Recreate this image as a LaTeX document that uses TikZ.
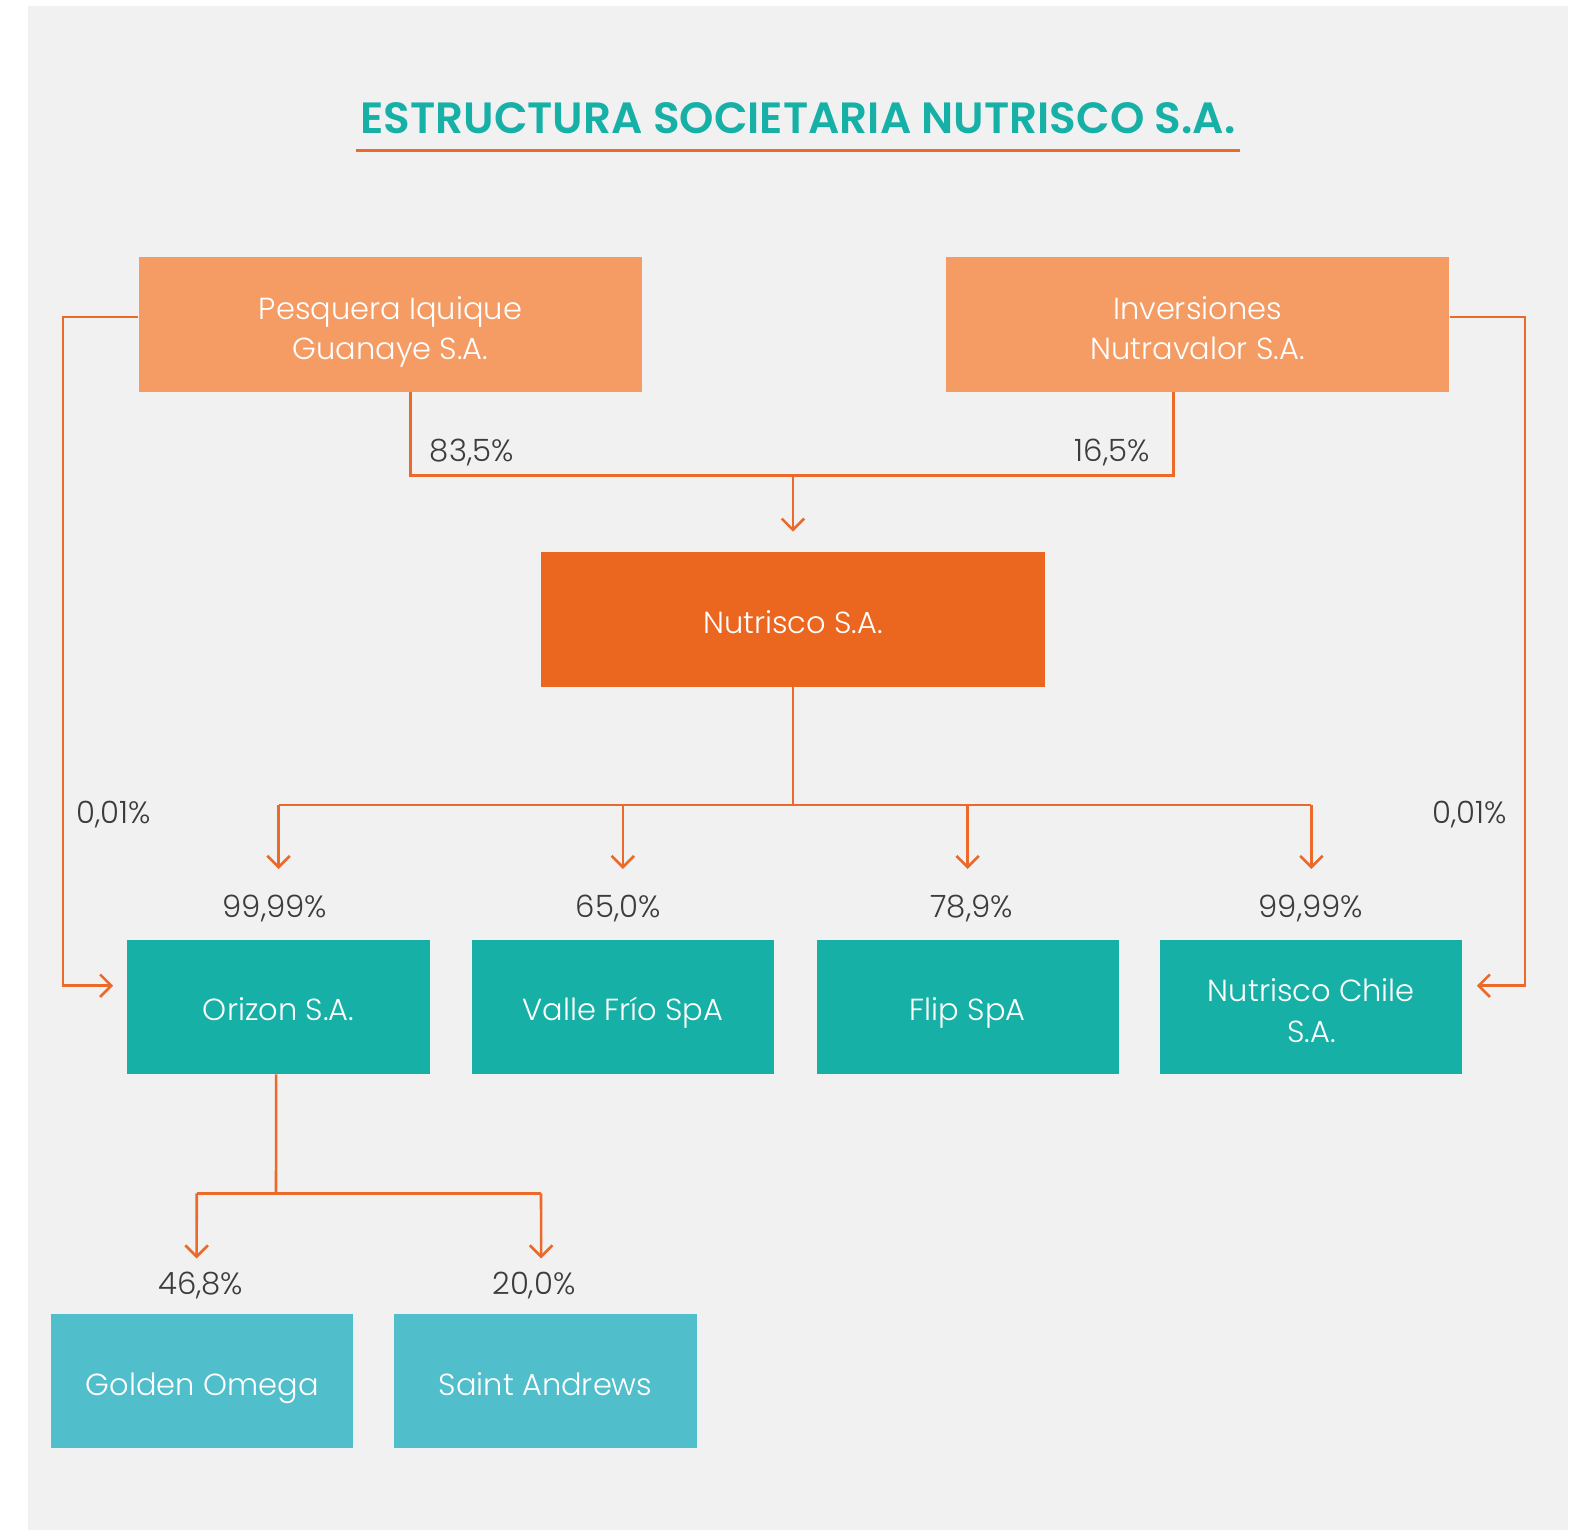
\documentclass[tikz,border=0pt]{standalone}
\usepackage{fontspec}
\setmainfont{Poppins Light}[BoldFont={Poppins SemiBold}]
\usepackage{xcolor}
\usetikzlibrary{arrows.meta,positioning}

\definecolor{fondo}{HTML}{F1F1F1}
\definecolor{naranjo}{HTML}{F49C64}
\definecolor{naranjofuerte}{HTML}{EB661F}
\definecolor{linea}{HTML}{EB6A2A}
\definecolor{verde}{HTML}{17B0A6}
\definecolor{celeste}{HTML}{50BECB}
\definecolor{texto}{HTML}{3C3C3C}

\newcommand{\alto}{\rule{0pt}{30pt}}

\begin{document}
\begin{tikzpicture}[
        x=0.25mm, y=-0.25mm,
        caja/.style={
            minimum height=33.5mm,
            text=white,
            align=center,
            font=\fontsize{21.6}{28.5}\selectfont,
            execute at begin node={\rule{0pt}{28.5pt}},
            execute at end node=\strut
        },
        grande/.style={caja, minimum width=125.5mm},
        chica/.style={caja, minimum width=75.25mm},
        pct/.style={text=texto, font=\fontsize{21.8}{24}\selectfont},
        conector/.style={draw=linea, line width=0.65mm},
        flecha/.style={conector, -{Straight Barb[length=2.8mm, width=5.6mm, line width=0.65mm]}}
    ]

    % fondo
    \fill[fondo] (28,6) rectangle (1562,1529);

    % titulo
    \node[text=verde, font=\bfseries\fontsize{31}{34}\selectfont] (titulo) at (795,118)
        {ESTRUCTURA SOCIETARIA NUTRISCO S.A.};
    \draw[draw=linea, line width=0.6mm] (355,150) -- (1235,150);

    % accionistas
    \node[grande, fill=naranjo] (pesquera) at (389,323.5) {\alto Pesquera Iquique\\Guanaye S.A.};
    \node[grande, fill=naranjo] (inversiones) at (1193,323.5) {\alto Inversiones\\Nutravalor S.A.};

    % matriz
    \node[grande, fill=naranjofuerte] (nutrisco) at (790,617) {Nutrisco S.A.};

    % filiales
    \node[chica, fill=verde] (orizon) at (277.5,1003) {Orizon S.A.};
    \node[chica, fill=verde] (valle) at (620.5,1003) {Valle Frío SpA};
    \node[chica, fill=verde] (flip) at (964,1003) {Flip SpA};
    \node[chica, fill=verde] (chile) at (1306.5,1003) {\alto Nutrisco Chile\\S.A.};

    % coligadas
    \node[chica, fill=celeste] (golden) at (201.5,1376) {Golden Omega};
    \node[chica, fill=celeste] (saint) at (543.5,1376) {Saint Andrews};

    % accionistas -> nutrisco
    \coordinate (pq) at ([xshift=5mm]pesquera.south);
    \coordinate (iq) at ([xshift=-6mm]inversiones.south);
    \coordinate (j1) at (790,474);
    \draw[conector] (pq) |- (j1) -| (iq);
    \draw[flecha] (j1) -- ([yshift=5mm]nutrisco.north);
    \node[pct] (p835) at (470,451) {83,5\%};
    \node[pct] (p165) at (1108,451) {16,5\%};

    % participaciones directas 0,01%
    \draw[flecha] ([yshift=1.9mm]pesquera.west) -- ++(-75,0)
        |- ([xshift=-3.5mm,yshift=5.25mm]orizon.west);
    \draw[flecha] ([yshift=1.9mm]inversiones.east) -- ++(75,0)
        |- ([xshift=3.5mm,yshift=5.25mm]chile.east);
    \node[pct] (p001a) at (113,812) {0,01\%};
    \node[pct] (p001b) at (1464,812) {0,01\%};

    % nutrisco -> filiales
    \coordinate (j2) at (790,802);
    \draw[conector] (nutrisco.south) -- (j2);
    \draw[conector] (orizon.north |- j2) -- (chile.north |- j2);
    \foreach \f in {orizon,valle,flip,chile}
        \draw[flecha] (\f.north |- j2) -- ([yshift=17.5mm]\f.north);
    \node[pct] (p9999a) at (274,905) {99,99\%};
    \node[pct] (p650) at (616,905) {65,0\%};
    \node[pct] (p789) at (968,905) {78,9\%};
    \node[pct] (p9999b) at (1306,905) {99,99\%};

    % orizon -> coligadas
    \coordinate (j3) at (275,1189);
    \draw[conector] ([xshift=-0.6mm]orizon.south) -- (j3);
    \coordinate (g3) at (196,1189);
    \coordinate (s3) at (539,1189);
    \draw[conector] (g3) -- (s3);
    \draw[flecha] (g3) -- ([xshift=-1.4mm,yshift=13.75mm]golden.north);
    \draw[flecha] (s3) -- ([xshift=-1.1mm,yshift=13.75mm]saint.north);
    \node[pct] (p468) at (200,1281) {46,8\%};
    \node[pct] (p200) at (532,1281) {20,0\%};

    % marco
    \pgfresetboundingbox
    \useasboundingbox (0,0) rectangle (1570.1,1523.3);

\end{tikzpicture}
\end{document}
